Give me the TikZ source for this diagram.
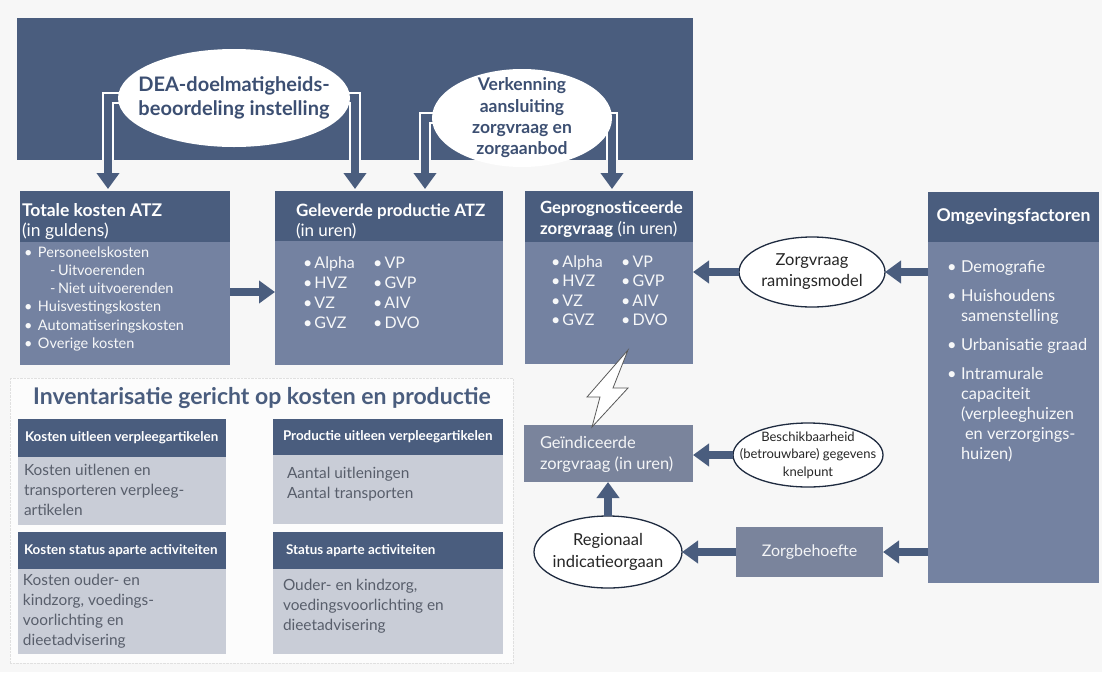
\documentclass[tikz,border=0pt]{standalone}
\usepackage{fontspec}
\setmainfont{Lato}
\usetikzlibrary{arrows.meta,shapes.geometric}
\definecolor{navy}{HTML}{4A5D7E}
\definecolor{slate}{HTML}{7482A1}
\definecolor{greyblue}{HTML}{7A849C}
\definecolor{pale}{HTML}{C9CDD7}
\definecolor{ink}{HTML}{585E6B}
\definecolor{paper}{HTML}{F7F7F7}
\definecolor{deep}{HTML}{3C4F72}
\definecolor{rimline}{HTML}{1F2B40}
\pgfdeclarelayer{back}
\pgfdeclarelayer{mid}
\pgfsetlayers{back,mid,main}
\newcommand\fs[2]{\fontsize{#1}{#2}\selectfont}
\newcommand\bl{\makebox[14pt][l]{\textbullet}}
\newcommand\bll{\makebox[11.5pt][l]{\textbullet}}
% multi-line text nodes are placed by the baseline of their last line
\tikzset{
  every node/.style={inner sep=0pt, outer sep=0pt},
  block/.style={anchor=north west, rectangle},
  headtxt/.style={anchor=base west, align=left, text=white},
  bodytxt/.style={anchor=base west, align=left, text=white!94!slate},
  bubble/.style={ellipse, fill=white, draw=rimline, line width=1.3pt},
  bubbletxt/.style={align=center, text=black!85},
  fat/.style={draw=navy, line width=8pt, -{Triangle[width=22pt,length=16pt]}},
  rim/.style={draw=white, line width=12pt},
  invhead/.style={anchor=west, font={\bfseries\fs{13.4}{15}}, text=white},
  invbody/.style={anchor=base west, align=left, font={\fs{15.4}{20}}, text=ink},
}
\begin{document}
\begin{tikzpicture}[x=1pt,y=-1pt]
\useasboundingbox (0,0) rectangle (1102,672);
\begin{pgfonlayer}{back}
  \fill[paper] (0,0) rectangle (1102,672);
  \node[block, fill=navy, minimum width=676pt, minimum height=142pt] (banner) at (17,18) {};
\end{pgfonlayer}

% ellipses in the banner
\node[bubble, draw=none, minimum width=232pt, minimum height=98pt] (dea) at (234,98) {};
\node[align=center, text=deep, font={\bfseries\fs{20}{24}}] (deat) at (dea.center) {DEA-doelmatigheids-\\beoordeling instelling};
\node[bubble, draw=none, minimum width=180pt, minimum height=98pt] (verk) at (522,118) {};
\node[align=center, text=deep, font={\bfseries\fs{17.5}{21.3}}] (verkt) at (verk.center) {Verkenning\\aansluiting\\zorgvraag en\\zorgaanbod};

% drop points of the bracket arrows
\coordinate (d1) at (108,189);
\coordinate (d2) at (355,189);
\coordinate (d3) at (425,189);
\coordinate (d4) at (612,189);
\begin{pgfonlayer}{mid}
  \draw[rim] (dea.center) -| (d1 |- banner.south);
  \draw[rim] (dea.center) -| (d2 |- banner.south);
  \draw[rim] (verk.center) -| (d3 |- banner.south);
  \draw[rim] (verk.center) -| (d4 |- banner.south);
  \draw[fat] (dea.center) -| (d1);
  \draw[fat] (dea.center) -| (d2);
  \draw[fat] (verk.center) -| (d3);
  \draw[fat] (verk.center) -| (d4);
\end{pgfonlayer}

% Totale kosten ATZ
\node[block, fill=slate, minimum width=210pt, minimum height=174pt] (tk) at (20,191) {};
\node[block, fill=navy, minimum width=210pt, minimum height=51pt] (tkh) at (20,191) {};
\node[headtxt, font={\fs{17.5}{20}}] (tkt) at (22,236) {\textbf{Totale kosten ATZ}\\(in guldens)};
\node[bodytxt, font={\fs{14.5}{18.3}}] (tkl) at (24,348.5)
  {\bl Personeelskosten\\
   \hspace*{26pt}\makebox[8pt][l]{-}Uitvoerenden\\
   \hspace*{26pt}\makebox[8pt][l]{-}Niet uitvoerenden\\
   \bl Huisvestingskosten\\
   \bl Automatiseringskosten\\
   \bl Overige kosten};

% Geleverde productie ATZ
\node[block, fill=slate, minimum width=228pt, minimum height=174pt] (gp) at (275,191) {};
\node[block, fill=navy, minimum width=228pt, minimum height=50pt] (gph) at (275,191) {};
\node[headtxt, font={\fs{17}{20}}] (gpt) at (296,236) {\textbf{Geleverde productie ATZ}\\(in uren)};
\node[bodytxt, font={\fs{16}{20}}] (gpl) at (303,328)
  {\makebox[70pt][l]{\bll Alpha}\bll VP\\
   \makebox[70pt][l]{\bll HVZ}\bll GVP\\
   \makebox[70pt][l]{\bll VZ}\bll AIV\\
   \makebox[70pt][l]{\bll GVZ}\bll DVO};

% Geprognosticeerde zorgvraag
\node[block, fill=slate, minimum width=168pt, minimum height=173pt] (ge) at (525,191) {};
\node[block, fill=navy, minimum width=168pt, minimum height=51pt] (geh) at (525,191) {};
\node[headtxt, font={\fs{16.8}{21}}] (get) at (540,234) {\textbf{Geprognosticeerde}\\\textbf{zorgvraag} (in uren)};
\node[bodytxt, font={\fs{16}{19.6}}] (gel) at (551,325.8)
  {\makebox[70pt][l]{\bll Alpha}\bll VP\\
   \makebox[70pt][l]{\bll HVZ}\bll GVP\\
   \makebox[70pt][l]{\bll VZ}\bll AIV\\
   \makebox[70pt][l]{\bll GVZ}\bll DVO};

% Omgevingsfactoren
\node[block, fill=slate, minimum width=171pt, minimum height=391pt] (omg) at (928,192) {};
\node[block, fill=navy, minimum width=171pt, minimum height=50pt] (omgh) at (928,192) {};
\node[text=white, font={\bfseries\fs{17.6}{20}}] (omgt) at (omgh.center) {Omgevingsfactoren};
\node[bodytxt, font={\fs{16.4}{20}}] (omgl) at (947,459)
  {\bl Demografie\\[9pt]
   \bl Huishoudens\\
   \hspace*{14pt}samenstelling\\[9pt]
   \bl Urbanisatie graad\\[9pt]
   \bl Intramurale\\
   \hspace*{14pt}capaciteit\\
   \hspace*{14pt}(verpleeghuizen\\
   \hspace*{18pt}en verzorgings-\\
   \hspace*{14pt}huizen)};

% Zorgvraag ramingsmodel
\node[bubble, minimum width=146pt, minimum height=70pt] (ram) at (812,272) {};
\node[bubbletxt, font={\fs{16.5}{21}}] (ramt) at (ram.center) {Zorgvraag\\ramingsmodel};

% Geindiceerde zorgvraag
\node[block, fill=greyblue, minimum width=169pt, minimum height=57pt] (gein) at (524,425) {};
\node[anchor=base west, align=left, font={\fs{16.5}{21}}, text=white!92!greyblue] (geint) at (540,469) {Geïndiceerde\\zorgvraag (in uren)};

% Beschikbaarheid
\node[bubble, minimum width=150pt, minimum height=64pt] (besch) at (808,455) {};
\node[bubbletxt, font={\fs{13}{17.5}}] (bescht) at (besch.center) {Beschikbaarheid\\(betrouwbare) gegevens\\knelpunt};

% Regionaal indicatieorgaan
\node[bubble, minimum width=148pt, minimum height=72pt] (reg) at (608,552) {};
\node[bubbletxt, font={\fs{16.5}{22}}] (regt) at (reg.center) {Regionaal\\indicatieorgaan};

% Zorgbehoefte
\node[block, fill=greyblue, minimum width=147pt, minimum height=50pt] (zb) at (736,527) {};
\node[font={\fs{16}{20}}, text=white!92!greyblue] (zbt) at (zb.center) {Zorgbehoefte};

% connectors
\coordinate (a1) at ([yshift=-14pt]tk.east);
\draw[fat] (a1) -- (a1 -| gp.west);
\draw[fat] (ram.west) -- (ram.west -| ge.east);
\draw[fat] (ram.east -| omg.west) -- (ram.east);
\draw[fat] (besch.west) -- (besch.west -| gein.east);
\draw[fat] (reg.north) -- (reg.north |- gein.south);
\draw[fat] (zb.west) -- (reg.east);
\draw[fat] (zb.east -| omg.west) -- (zb.east);

% lightning bolt
\draw[fill=white, draw=black!65, line width=0.8pt, line join=miter]
  (628,350) -- (587,397) -- (600,397) -- (592,427) -- (628,388) -- (613,388) -- cycle;

% Inventarisatie panel
\node[block, fill=white!60!paper, draw=black!12, densely dotted, minimum width=503pt, minimum height=285pt] (inv) at (10,378) {};
\node[font={\bfseries\fs{23}{26}}, text=navy] (invt) at (262,398) {Inventarisatie gericht op kosten en productie};

\node[block, fill=pale, minimum width=208pt, minimum height=106pt] (k1) at (18,419) {};
\node[block, fill=navy, minimum width=208pt, minimum height=38pt] (k1h) at (18,419) {};
\node[invhead] (k1t) at ([xshift=7pt]k1h.west) {Kosten uitleen verpleegartikelen};
\node[invbody] (k1b) at (24,515) {Kosten uitlenen en\\transporteren verpleeg-\\artikelen};

\node[block, fill=pale, minimum width=230pt, minimum height=105pt] (p1) at (273,419) {};
\node[block, fill=navy, minimum width=230pt, minimum height=36pt] (p1h) at (273,419) {};
\node[invhead] (p1t) at ([xshift=10pt]p1h.west) {Productie uitleen verpleegartikelen};
\node[invbody] (p1b) at (287,498) {Aantal uitleningen\\Aantal transporten};

\node[block, fill=pale, minimum width=208pt, minimum height=122pt] (k2) at (18,532) {};
\node[block, fill=navy, minimum width=208pt, minimum height=37pt] (k2h) at (18,532) {};
\node[invhead] (k2t) at ([xshift=6pt]k2h.west) {Kosten status aparte activiteiten};
\node[invbody] (k2b) at (23,645) {Kosten ouder- en\\kindzorg, voedings-\\voorlichting en\\dieetadvisering};

\node[block, fill=pale, minimum width=230pt, minimum height=122pt] (p2) at (273,532) {};
\node[block, fill=navy, minimum width=230pt, minimum height=37pt] (p2h) at (273,532) {};
\node[invhead] (p2t) at ([xshift=13pt]p2h.west) {Status aparte activiteiten};
\node[invbody] (p2b) at (283,630) {Ouder- en kindzorg,\\voedingsvoorlichting en\\dieetadvisering};
\end{tikzpicture}
\end{document}
